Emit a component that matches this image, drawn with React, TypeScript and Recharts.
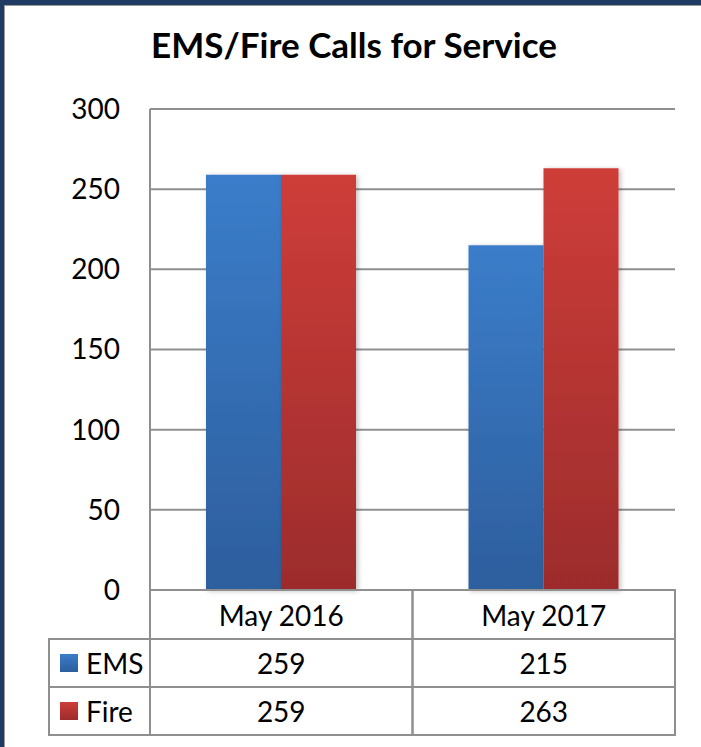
import React from "react";
import { BarChart, Bar, XAxis, YAxis, CartesianGrid } from "recharts";

const categories = ["May 2016", "May 2017"];
const emsCalls = [259, 215];
const fireCalls = [259, 263];
const yTicks = [0, 50, 100, 150, 200, 250, 300];

const series = [
  { key: "ems", name: "EMS", values: emsCalls, top: "#3b7dca", bottom: "#2d5e9d" },
  { key: "fire", name: "Fire", values: fireCalls, top: "#ce3d39", bottom: "#9c2c2c" },
];

const data = categories.map((c, i) => ({
  name: c,
  ems: emsCalls[i],
  fire: fireCalls[i],
}));

// layout
const W = 701;
const H = 747;
const PLOT_LEFT = 150;
const PLOT_RIGHT = 675;
const COL_W = (PLOT_RIGHT - PLOT_LEFT) / categories.length;
const CAT_ROW = 49;
const ROW_H = 48;
const LEGEND_W = 101;
const GRID = "#8f8f8f";
const FONT = "Lato, 'Open Sans', sans-serif";

const TableTick = (props: any) => {
  const { x, y, payload, index } = props;
  const left = x - COL_W / 2;
  return (
    <g fontFamily={FONT} fontSize={28} fill="#000">
      <rect x={left} y={y} width={COL_W} height={CAT_ROW} fill="none" stroke={GRID} strokeWidth={2} />
      <text x={x} y={y + CAT_ROW / 2} textAnchor="middle" dominantBaseline="central" fill="#000">
        {payload.value}
      </text>
      {series.map((s, r) => {
        const top = y + CAT_ROW + r * ROW_H;
        return (
          <g key={s.key}>
            <rect x={left} y={top} width={COL_W} height={ROW_H} fill="none" stroke={GRID} strokeWidth={2} />
            <text x={x} y={top + ROW_H / 2} textAnchor="middle" dominantBaseline="central" fill="#000">
              {s.values[index]}
            </text>
            {index === 0 && (
              <g>
                <rect
                  x={left - LEGEND_W}
                  y={top}
                  width={LEGEND_W}
                  height={ROW_H}
                  fill="none"
                  stroke={GRID}
                  strokeWidth={2}
                />
                <rect x={left - LEGEND_W + 11} y={top + 15} width={18} height={18} fill={`url(#grad-${s.key})`} />
                <text x={left - LEGEND_W + 37} y={top + ROW_H / 2} dominantBaseline="central" fill="#000">
                  {s.name}
                </text>
              </g>
            )}
          </g>
        );
      })}
    </g>
  );
};

const App: React.FC = () => {
  return (
    <div style={{ position: "absolute", left: 0, top: 0, width: W, height: H, background: "#fff" }}>
      {/* frame edges from the source slide */}
      <div style={{ position: "absolute", left: 0, top: 0, width: W, height: 5, background: "#1f3a63" }} />
      <div style={{ position: "absolute", left: 0, top: 5, width: W, height: 1, background: "#9a9a9a" }} />
      <div style={{ position: "absolute", left: 0, top: 0, width: 4, height: H, background: "#1f3a63" }} />
      <div style={{ position: "absolute", left: 4, top: 5, width: 1, height: H, background: "#9a9a9a" }} />

      <div
        style={{
          position: "absolute",
          left: 0,
          width: 708,
          top: 24,
          textAlign: "center",
          fontFamily: FONT,
          fontWeight: 700,
          fontSize: 35,
          color: "#000",
          lineHeight: "40px",
          whiteSpace: "nowrap",
        }}
      >
        EMS/Fire Calls for Service
      </div>

      <div style={{ position: "absolute", left: 0, top: 0 }}>
        <BarChart
          width={W}
          height={H}
          data={data}
          margin={{ top: 109, right: W - PLOT_RIGHT, bottom: 12, left: 50 }}
          barGap={0}
          barSize={75}
        >
          <defs>
            {series.map((s) => (
              <linearGradient key={s.key} id={`grad-${s.key}`} x1="0" y1="0" x2="0" y2="1">
                <stop offset="0%" stopColor={s.top} />
                <stop offset="100%" stopColor={s.bottom} />
              </linearGradient>
            ))}
            <filter id="barShadow" x="-10%" y="-10%" width="130%" height="130%">
              <feDropShadow dx="2" dy="1" stdDeviation="2.5" floodColor="#000" floodOpacity="0.25" />
            </filter>
          </defs>
          <CartesianGrid vertical={false} stroke={GRID} strokeWidth={2} />
          <YAxis
            width={100}
            domain={[0, 300]}
            ticks={yTicks}
            interval={0}
            tickLine={false}
            tickSize={0}
            tickMargin={30}
            axisLine={{ stroke: GRID, strokeWidth: 2 }}
            tick={{ fill: "#000", fontSize: 28, fontFamily: FONT }}
          />
          <XAxis
            dataKey="name"
            height={145}
            tickLine={false}
            tickSize={0}
            tickMargin={0}
            axisLine={false}
            interval={0}
            tick={<TableTick />}
          />
          {series.map((s) => (
            <Bar
              key={s.key}
              dataKey={s.key}
              name={s.name}
              fill={`url(#grad-${s.key})`}
              filter="url(#barShadow)"
              isAnimationActive={false}
            />
          ))}
        </BarChart>
      </div>
    </div>
  );
};

export default App;
